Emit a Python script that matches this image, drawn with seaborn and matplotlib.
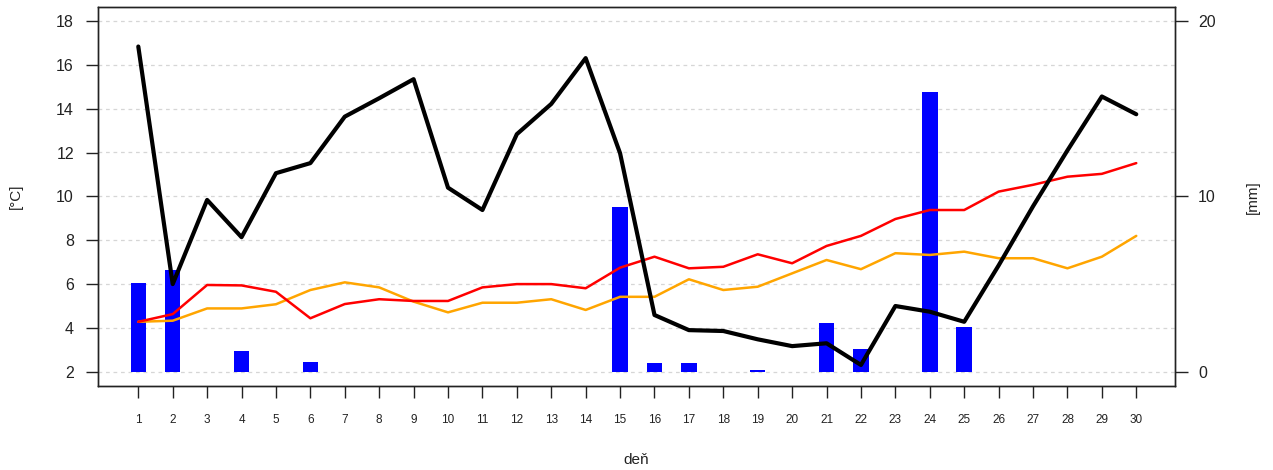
import matplotlib
matplotlib.use("Agg")
import matplotlib.pyplot as plt
from matplotlib.ticker import MultipleLocator, FixedLocator
import numpy as np
import pandas as pd
import seaborn as sns

# ---- data ----
days = list(range(1, 31))
line_black = [16.84, 6.0, 9.84, 8.14, 11.06, 11.52, 13.64, 14.48, 15.35, 10.40,
              9.38, 12.84, 14.22, 16.31, 11.97, 4.59, 3.90, 3.86, 3.48, 3.17,
              3.30, 2.31, 5.0, 4.74, 4.28, 6.85, 9.55, 12.1, 14.56, 13.75]
line_red = [4.28, 4.63, 5.96, 5.94, 5.65, 4.44, 5.09, 5.31, 5.23, 5.23,
            5.85, 6.0, 6.0, 5.81, 6.75, 7.25, 6.72, 6.79, 7.36, 6.95,
            7.74, 8.2, 8.97, 9.38, 9.38, 10.22, 10.53, 10.9, 11.03, 11.52]
line_orange = [4.28, 4.33, 4.89, 4.89, 5.08, 5.73, 6.08, 5.85, 5.2, 4.71,
               5.15, 5.15, 5.31, 4.82, 5.42, 5.42, 6.22, 5.73, 5.88, 6.49,
               7.1, 6.68, 7.41, 7.33, 7.48, 7.18, 7.18, 6.72, 7.25, 8.2]
rain_mm = [5.05, 5.77, 0, 1.2, 0, 0.57, 0, 0, 0, 0,
           0, 0, 0, 0, 9.39, 0.48, 0.48, 0, 0.1, 0,
           2.8, 1.28, 0, 15.94, 2.57, 0, 0, 0, 0, 0]
temp_ticks = [2, 4, 6, 8, 10, 12, 14, 16, 18]
rain_ticks = [0, 10, 20]
x_label = "deň"
temp_label = "[°C]"
rain_label = "[mm]"

df = pd.DataFrame({"day": days, "black": line_black, "red": line_red,
                   "orange": line_orange, "rain": rain_mm})

sns.set_style("white")
plt.rcParams["font.family"] = ["Liberation Sans", "DejaVu Sans"]
txt = "#222222"

fig = plt.figure(figsize=(12.73, 4.70), dpi=100)
ax = fig.add_axes([0.0772, 0.1787, 0.923 - 0.0772, 0.9845 - 0.1787])

# bars (precipitation) on the base axis, right-hand scale
sns.barplot(data=df, x="day", y="rain", native_scale=True, width=0.45,
            color="#0000FF", saturation=1, errorbar=None, linewidth=0, ax=ax, zorder=2)

# temperature lines on the twin axis (drawn on top), left-hand scale
ax2 = ax.twinx()
sns.lineplot(data=df, x="day", y="orange", color="#FFA500", linewidth=1.8, ax=ax2)
sns.lineplot(data=df, x="day", y="red", color="#FF0000", linewidth=1.8, ax=ax2)
sns.lineplot(data=df, x="day", y="black", color="#000000", linewidth=3.0, ax=ax2)

# base axis: right-hand mm scale + grid
ax.set_ylim(-0.82, 20.78)
ax.yaxis.tick_right()
ax.yaxis.set_label_position("right")
ax.yaxis.set_major_locator(FixedLocator(rain_ticks))
ax.yaxis.set_minor_locator(MultipleLocator(2.5))
ax.grid(axis="y", which="both", color="#d6d6d6", linestyle=(0, (3, 3)), linewidth=0.9, zorder=0)
ax.grid(axis="x", visible=False)
ax.set_axisbelow(True)
ax.set_ylabel(rain_label, fontsize=11, color=txt, labelpad=22)
ax.set_xlabel(x_label, fontsize=11, color=txt, labelpad=19)
ax.set_xlim(-0.163, 31.125)
ax.set_xticks(days)
ax.set_xticklabels([str(d) for d in days])
ax.tick_params(axis="x", direction="out", length=8.3, width=1, pad=12,
               labelsize=8.5, colors=txt, bottom=True)
ax.tick_params(axis="y", which="major", direction="out", length=9.5, width=1, pad=7,
               labelsize=11.5, colors=txt, right=True, left=False,
               labelright=True, labelleft=False)
ax.tick_params(axis="y", which="minor", length=0, left=False, right=False)

# twin axis: left-hand °C scale
ax2.set_ylim(1.35, 18.63)
ax2.yaxis.tick_left()
ax2.yaxis.set_label_position("left")
ax2.set_yticks(temp_ticks)
ax2.set_ylabel(temp_label, fontsize=11, color=txt, labelpad=24)
ax2.tick_params(axis="y", direction="out", length=8.9, width=1, pad=8.6,
                labelsize=11.5, colors=txt, left=True, right=False,
                labelleft=True, labelright=False)
ax2.set_xlim(-0.163, 31.125)
ax2.grid(False)

for a in (ax, ax2):
    for s in a.spines.values():
        s.set_visible(True)
        s.set_color(txt)
        s.set_linewidth(1.0)

fig.savefig("out.png", dpi=100)
